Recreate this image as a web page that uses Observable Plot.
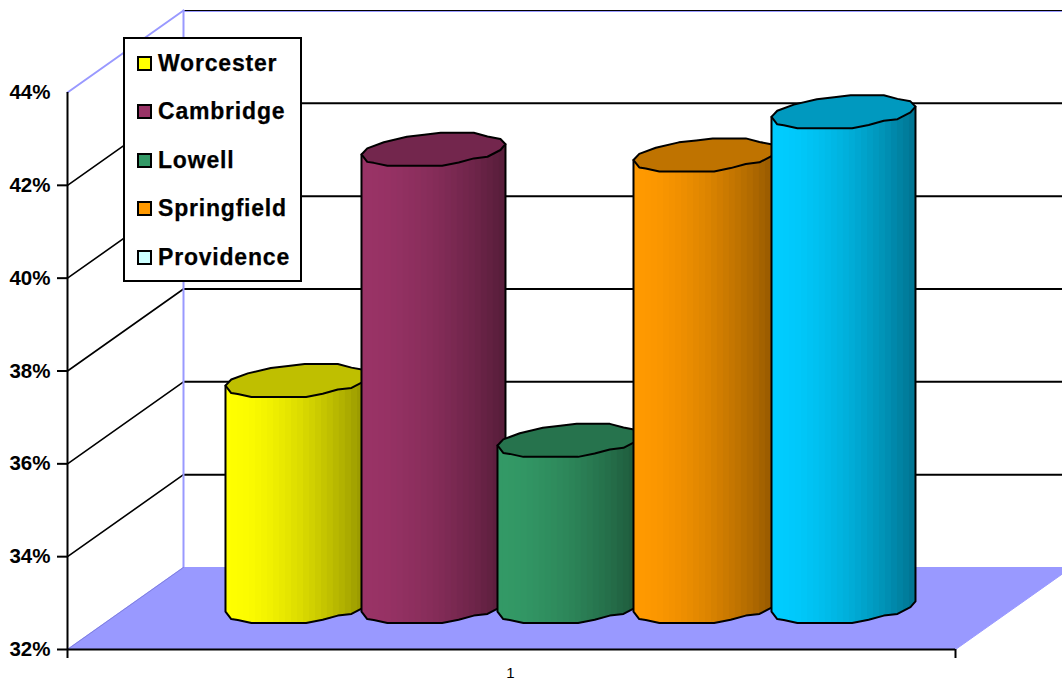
<!DOCTYPE html>
<html>
<head>
<meta charset="utf-8">
<script src="https://cdn.jsdelivr.net/npm/d3@7"></script>
<script src="https://cdn.jsdelivr.net/npm/@observablehq/plot@0.6"></script>
<style>
  html, body { margin: 0; background: #fff; }
  #chart { position: relative; width: 1062px; height: 681px; overflow: hidden; }
  #legend {
    position: absolute; left: 123px; top: 37px; width: 179px; height: 245px;
    box-sizing: border-box; border: 2px solid #000; background: #fff;
    font: bold 23px "Liberation Sans", Arial, sans-serif; letter-spacing: 0.8px; color: #000;
    -webkit-text-stroke: 0.25px #000;
  }
  #legend .row { display: flex; align-items: center; height: 48.5px; padding-left: 12px; white-space: nowrap; }
  #legend .swatch { width: 11px; height: 11px; border: 2px solid #000; margin-right: 6px; flex: none; }
</style>
</head>
<body>
<div id="chart"></div>
<script>
// Share of each city, in percent
const cities = ["Worcester", "Cambridge", "Lowell", "Springfield", "Providence"];
const shares = [36.87, 41.85, 35.58, 41.73, 42.66];
const barColors = ["#FFFF00", "#993366", "#339966", "#FF9900", "#00CCFF"];
const keyColors = ["#FFFF00", "#993366", "#339966", "#FF9900", "#CCFFFF"];
const axisPercents = [32, 34, 36, 38, 40, 42, 44];
const categoryLabel = "1";

// Oblique box the chart sits in, expressed in scale units
const floorValue = 32, topValue = 44;
const depthX = 116 / 888, depthY = 82 / 46.42;
const wallColor = "#9999FF";

// Cylinder geometry: the rim is a coarse, slanted polygon (u across, v up, both -1..1)
const barDepth = 0.524, firstCenter = 0.259, centerStep = 136 / 888, lastNudge = 2 / 888;
const radiusX = 72 / 888, radiusY = 16.5 / 46.42;
const upperRim = [[-1,-0.31],[-0.92,0.06],[-0.69,0.43],[-0.37,0.76],[-0.13,0.88],[0.10,1],[0.56,1],[0.75,0.78],[0.93,0.63],[1,0.31]];
const lowerRim = [[-1,-0.31],[-0.92,-0.76],[-0.83,-0.82],[-0.64,-1],[0.12,-1],[0.35,-0.80],[0.56,-0.55],[0.75,-0.45],[0.93,-0.04],[1,0.31]];
const bandCount = 24;

const shade = (color, k) => {
  const c = d3.rgb(color);
  return d3.rgb(c.r * k, c.g * k, c.b * k).formatHex();
};
const bandShade = (t) => 1 - 0.42 * Math.pow(t, 1.7);

const wallTop = topValue + depthY;
const backFloor = floorValue + depthY;
const marks = [];

// Floor
marks.push(Plot.line(
  [[0, floorValue], [1, floorValue], [1 + depthX, backFloor], [depthX, backFloor]],
  {fill: wallColor, stroke: wallColor, strokeWidth: 1, curve: "linear-closed"}
));

// Back wall gridlines, their side-wall returns, and the wall frame
const levels = axisPercents.slice(1, -1);
marks.push(Plot.ruleY(levels, {
  y: (d) => d + depthY, x1: depthX, x2: 1 + depthX, stroke: "#000", strokeWidth: 2
}));
marks.push(Plot.ruleY([wallTop], {x1: depthX, x2: 1 + depthX, stroke: wallColor, strokeWidth: 1, dy: 1}));
marks.push(Plot.ruleY([wallTop], {x1: depthX, x2: 1 + depthX, stroke: "#000", strokeWidth: 1}));
for (const v of levels) {
  marks.push(Plot.line([[0, v], [depthX, v + depthY]], {stroke: "#000", strokeWidth: 1.6}));
}
marks.push(Plot.line([[0, topValue], [depthX, wallTop]], {stroke: wallColor, strokeWidth: 2}));
marks.push(Plot.line([[depthX, backFloor], [depthX, wallTop]], {stroke: wallColor, strokeWidth: 2}));
marks.push(Plot.line([[0, floorValue], [depthX, backFloor]], {stroke: "#7f7fe0", strokeWidth: 1}));

// Cylinders, painted from left to right so each one overlaps its neighbour
shares.forEach((share, i) => {
  const cx = firstCenter + i * centerStep + (i === shares.length - 1 ? lastNudge : 0);
  const px = (u) => cx + u * radiusX;
  const lift = (u) => u * radiusY;
  const baseCenter = floorValue + barDepth * depthY;
  const topCenter = share + barDepth * depthY;
  const lowerAt = d3.scaleLinear(lowerRim.map((p) => p[0]), lowerRim.map((p) => p[1]));

  // Shaded side: darker bands overpaint towards the right edge
  const rows = [];
  d3.range(bandCount).forEach((b) => {
    const u0 = -1 + 2 * b / bandCount;
    const color = shade(barColors[i], bandShade(b / (bandCount - 1)));
    const us = [u0, ...lowerRim.map((p) => p[0]).filter((u) => u > u0)];
    for (const u of us) {
      rows.push({band: b, x: px(u), y1: baseCenter + lift(lowerAt(u)), y2: topCenter + lift(lowerAt(u)), color});
    }
  });
  marks.push(Plot.areaY(rows, {x: "x", y1: "y1", y2: "y2", z: "band", fill: "color"}));

  // Outline of the side down to the lower rim
  const outline = [
    [px(-1), topCenter + lift(lowerRim[0][1])],
    ...lowerRim.map(([u, v]) => [px(u), baseCenter + lift(v)]),
    [px(1), topCenter + lift(lowerRim[lowerRim.length - 1][1])]
  ];
  marks.push(Plot.line(outline, {stroke: "#000", strokeWidth: 2}));

  // Top cap
  const cap = [...upperRim, ...lowerRim.slice(1, -1).reverse()].map(([u, v]) => [px(u), topCenter + lift(v)]);
  marks.push(Plot.line(cap, {fill: shade(barColors[i], 0.75), stroke: "#000", strokeWidth: 2, curve: "linear-closed"}));
});

// Front axes
marks.push(Plot.ruleX([0], {y1: floorValue, y2: topValue, stroke: "#000", strokeWidth: 2}));
marks.push(Plot.ruleY([floorValue], {x1: 0, x2: 1, stroke: "#000", strokeWidth: 2}));
const tickDrop = 9 / 46.42, tickOut = 10 / 888;
marks.push(Plot.ruleX([0, 1], {y1: floorValue - tickDrop, y2: floorValue, stroke: "#000", strokeWidth: 2}));
marks.push(Plot.ruleY(axisPercents.slice(0, -1), {x1: -tickOut, x2: 0, stroke: "#000", strokeWidth: 2}));
marks.push(Plot.axisY(axisPercents, {
  anchor: "left", tickSize: 0, tickPadding: 17, label: null,
  tickFormat: (d) => d + "%", fontWeight: "bold", fontSize: 20.5, fill: "#000"
}));
marks.push(Plot.text([categoryLabel], {
  x: [0.5 - 1 / 888], y: [floorValue - 23.5 / 46.42], text: (d) => d, fontSize: 15, fill: "#000"
}));

const svg = Plot.plot({
  width: 1062, height: 681,
  marginLeft: 67, marginRight: 107, marginTop: 92, marginBottom: 32,
  style: {fontFamily: "'Liberation Sans', Arial, sans-serif", background: "transparent", overflow: "visible"},
  x: {domain: [0, 1], axis: null},
  y: {domain: [floorValue, topValue], axis: null},
  color: {type: "identity"},
  marks
});
const chart = document.getElementById("chart");
chart.appendChild(svg);

// Key laid over the chart's upper left
const legend = d3.select(chart).append("div").attr("id", "legend");
const rows = legend.selectAll("div").data(cities).join("div").attr("class", "row");
rows.append("span").attr("class", "swatch").style("background", (d, i) => keyColors[i]);
rows.append("span").text((d) => d);
</script>
</body>
</html>
